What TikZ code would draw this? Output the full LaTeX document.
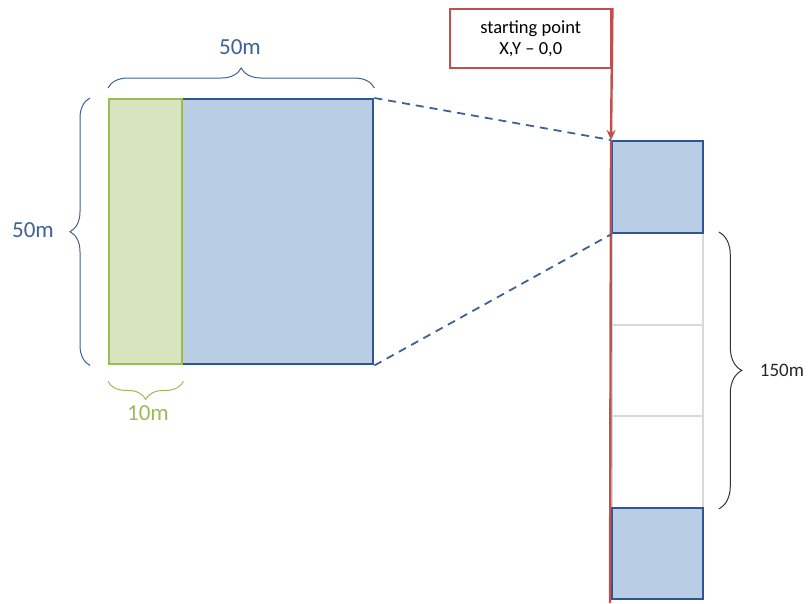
\documentclass[tikz,border=0pt]{standalone}
\usepackage{fontspec}
\setmainfont{Carlito}
\usetikzlibrary{positioning, decorations.pathreplacing, arrows.meta}
\definecolor{plotfill}{HTML}{B9CDE5}
\definecolor{plotline}{HTML}{2F5597}
\definecolor{stripfill}{HTML}{D7E4BD}
\definecolor{stripline}{HTML}{9BBB59}
\definecolor{dimblue}{HTML}{3F6194}
\definecolor{startred}{HTML}{C0504D}
\definecolor{cellgray}{HTML}{D9D9D9}

\begin{document}
\begin{tikzpicture}[x=1pt,y=-1pt,>={Stealth[length=10pt,width=9pt]},
    plot/.style={draw=plotline,fill=plotfill,line width=2.4pt,inner sep=0pt,anchor=north west},
    cell/.style={draw=cellgray,line width=1.8pt,inner sep=0pt,anchor=north west,minimum width=91pt,minimum height=91.7pt},
    brace/.style={decorate,decoration={brace,amplitude=#1},line width=1pt}]
    \useasboundingbox (0,0) rectangle (808,603);
    % big plot with the strip
    \node[plot,minimum width=264pt,minimum height=265pt] (big)   at (108,98)  {};
    \node[plot,draw=stripline,fill=stripfill,minimum width=73pt,minimum height=265pt] (strip) at (108,98) {};
    % column of plots
    \node[cell] (c1) at (611,232) {};
    \node[cell] (c2) at (611,323.7) {};
    \node[cell] (c3) at (611,415.4) {};
    \node[plot,minimum width=91pt,minimum height=92pt] (first) at (611,140) {};
    \node[plot,minimum width=91pt,minimum height=91pt] (last)  at (611,507) {};
    % starting point
    \node[draw=startred,line width=2.4pt,fill=white,inner sep=0pt,anchor=north west,
          minimum width=161pt,minimum height=59pt,align=center,font=\fontsize{18.5}{21}\selectfont]
          (start) at (449,8) {starting point\\X,Y -- 0,0};
    \coordinate (bottom) at (610,603);
    \draw[startred,line width=2.4pt,->] (start.north east) -- (first.north west);
    \draw[startred,line width=2.4pt] (first.north west) -- (bottom);
    % zoom lines
    \draw[dimblue,line width=1.8pt,dash pattern=on 8pt off 6pt] (big.north east) -- (first.north west);
    \draw[dimblue,line width=1.8pt,dash pattern=on 8pt off 6pt] (big.south east) -- (first.south west);
    % dimensions
    \draw[dimblue,brace=20pt] ([yshift=10pt]big.north west) -- ([yshift=10pt]big.north east);
    \draw[dimblue,brace=20pt] ([xshift=-18pt]big.south west) -- ([xshift=-18pt]big.north west);
    \draw[stripline,brace=18pt] ([yshift=-16pt]strip.south east) -- ([yshift=-16pt]strip.south west);
    \draw[black!80,brace=23pt] ([xshift=15pt]c1.north east) -- ([xshift=15pt]c3.south east);
    \node[dimblue,font=\fontsize{23}{25}\selectfont] (top)   at (240,47)  {50m};
    \node[dimblue,font=\fontsize{23}{25}\selectfont] (side)  at (33,230)  {50m};
    \node[stripline,font=\fontsize{23}{25}\selectfont] (ten) at (148,413) {10m};
    \node[black!85,font=\fontsize{19}{21}\selectfont] (long) at (782,370) {150m};
\end{tikzpicture}
\end{document}
